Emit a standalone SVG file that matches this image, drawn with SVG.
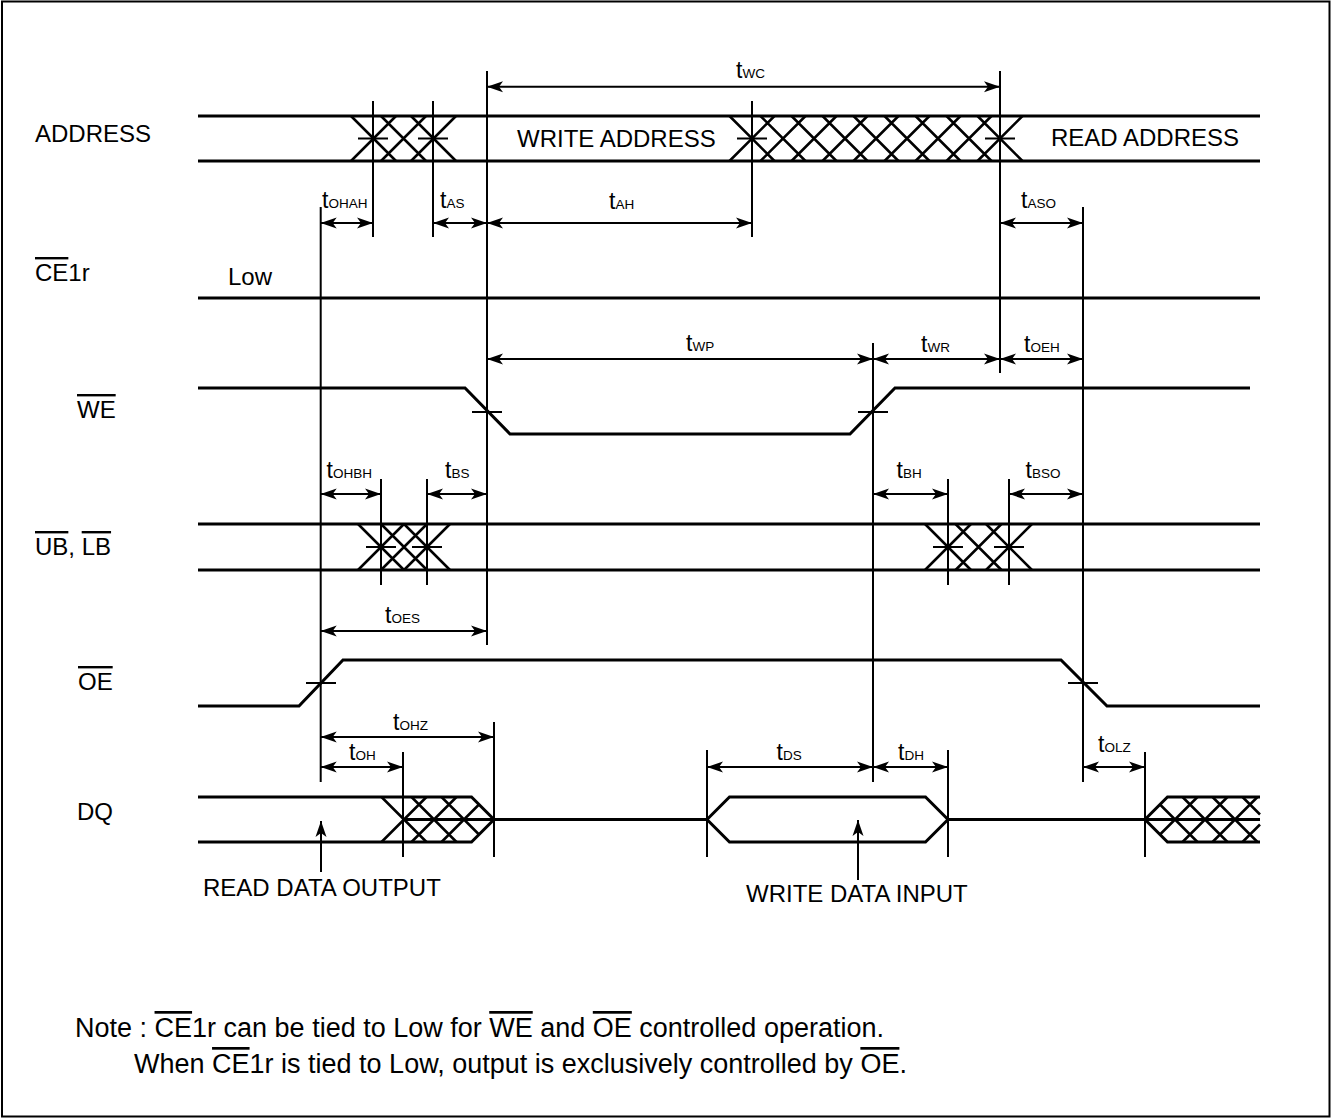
<svg xmlns="http://www.w3.org/2000/svg" width="1331" height="1118" viewBox="0 0 1331 1118">
<style>
.sig{stroke:#000;stroke-width:3;fill:none}
.v{stroke:#000;stroke-width:2;fill:none}
.h{stroke:#000;stroke-width:2.5;fill:none}
.dim{stroke:#000;stroke-width:2;fill:none;marker-start:url(#ah);marker-end:url(#ah)}
.up{stroke:#000;stroke-width:2;fill:none;marker-end:url(#ah)}
text{font-family:"Liberation Sans",Arial,Helvetica,sans-serif;fill:#000}
.lbl{font-size:24px}
.note{font-size:27px}
.t{font-size:23px}
.s{font-size:13.5px}
.ov{text-decoration:overline}
</style>
<defs>
<marker id="ah" viewBox="-17 -6 18 12" refX="0" refY="0" markerWidth="18" markerHeight="12" markerUnits="userSpaceOnUse" orient="auto-start-reverse">
<path d="M0,0 L-16,-5.5 L-12,0 L-16,5.5 Z" fill="#000"/>
</marker>
</defs>
<rect x="2" y="1.5" width="1327.5" height="1115" fill="#fff" stroke="#000" stroke-width="2"/>

<g id="sig-address">
<text class="lbl" x="35" y="142">ADDRESS</text>
<line class="sig" x1="198" y1="116" x2="1260" y2="116"/>
<line class="sig" x1="198" y1="161" x2="1260" y2="161"/>
<path class="h" d="M351,116L396,161M351,161L396,116M381,116L426,161M381,161L426,116M411,116L456,161M411,161L456,116"/>
<path class="h" d="M729.5,116L774.5,161M729.5,161L774.5,116M760.5,116L805.5,161M760.5,161L805.5,116M791.5,116L836.5,161M791.5,161L836.5,116M822.5,116L867.5,161M822.5,161L867.5,116M853.5,116L898.5,161M853.5,161L898.5,116M884.5,116L929.5,161M884.5,161L929.5,116M915.5,116L960.5,161M915.5,161L960.5,116M946.5,116L991.5,161M946.5,161L991.5,116M977.5,116L1022.5,161M977.5,161L1022.5,116"/>
<text class="lbl" x="517" y="147">WRITE ADDRESS</text>
<text class="lbl" x="1051" y="146">READ ADDRESS</text>
</g>

<g id="sig-ce1r">
<text class="lbl" x="35" y="281"><tspan class="ov">CE</tspan>1r</text>
<text class="lbl" x="228" y="285">Low</text>
<line class="sig" x1="198" y1="298" x2="1260" y2="298"/>
</g>

<g id="sig-we">
<text class="lbl" x="77" y="418"><tspan class="ov">WE</tspan></text>
<polyline class="sig" points="198,388 465,388 510,434 850,434 895,388 1250,388"/>
</g>

<g id="sig-ublb">
<text class="lbl" x="35" y="555"><tspan class="ov">UB</tspan>, <tspan class="ov">LB</tspan></text>
<line class="sig" x1="198" y1="524" x2="1260" y2="524"/>
<line class="sig" x1="198" y1="570" x2="1260" y2="570"/>
<path class="h" d="M358,524L404,570M358,570L404,524M381,524L427,570M381,570L427,524M404,524L450,570M404,570L450,524"/>
<path class="h" d="M925,524L971,570M925,570L971,524M955.5,524L1001.5,570M955.5,570L1001.5,524M986,524L1032,570M986,570L1032,524"/>
</g>

<g id="sig-oe">
<text class="lbl" x="78" y="690"><tspan class="ov">OE</tspan></text>
<polyline class="sig" points="198,706 299,706 343,660 1061,660 1107,706 1260,706"/>
</g>

<g id="sig-dq">
<text class="lbl" x="77" y="820">DQ</text>
<polyline class="sig" points="198,797 471.5,797 494,819.5 471.5,842 198,842"/>
<path class="h" d="M381.5,797L426.5,842M381.5,842L426.5,797M411.5,797L456.5,842M411.5,842L456.5,797M441.5,797L479,834.5M441.5,842L479,804.5"/>
<line class="sig" x1="404" y1="819.5" x2="707" y2="819.5"/>
<polygon class="sig" points="707,819.5 729.5,797 925.5,797 948,819.5 925.5,842 729.5,842"/>
<line class="sig" x1="948" y1="819.5" x2="1260" y2="819.5"/>
<polyline class="sig" points="1260,797 1167.5,797 1145,819.5 1167.5,842 1260,842"/>
<path class="h" d="M1160,804.5L1197.5,842M1182.5,797L1227.5,842M1212.5,797L1257.5,842M1242.5,797L1260,814.5M1160,834.5L1197.5,797M1182.5,842L1227.5,797M1212.5,842L1257.5,797M1242.5,842L1260,824.5"/>
<text class="lbl" x="203" y="896">READ DATA OUTPUT</text>
<text class="lbl" x="746" y="902">WRITE DATA INPUT</text>
</g>

<g id="connectors">
<path class="v" d="M320.7,207V782M373,101V237M433,101V237M487,71V645M752,101V237M1000,71V373M1083,207V782M873,343V782M381,479V585M427,479V585M948,479V585M1009,479V585M494,722V857M403,752V857M707,750V857M948,750V857M1145,752V857"/>
<path class="v" d="M358,138.5H388M418,138.5H448M737,138.5H767M985,138.5H1015M472,412H502M858,412H888M366,547H396M412,547H442M933,547H963M994,547H1024M306,683H336M1068,683H1098"/>
<line class="dim" x1="487" y1="86.7" x2="1000" y2="86.7"/>
<line class="dim" x1="320.7" y1="223" x2="373" y2="223"/>
<line class="dim" x1="433" y1="223" x2="487" y2="223"/>
<line class="dim" x1="487" y1="223" x2="752" y2="223"/>
<line class="dim" x1="1000" y1="223" x2="1083" y2="223"/>
<line class="dim" x1="487" y1="359" x2="873" y2="359"/>
<line class="dim" x1="873" y1="359" x2="1000" y2="359"/>
<line class="dim" x1="1000" y1="359" x2="1083" y2="359"/>
<line class="dim" x1="320.7" y1="494" x2="381" y2="494"/>
<line class="dim" x1="427" y1="494" x2="487" y2="494"/>
<line class="dim" x1="873" y1="494" x2="948" y2="494"/>
<line class="dim" x1="1009" y1="494" x2="1083" y2="494"/>
<line class="dim" x1="320.7" y1="631" x2="487" y2="631"/>
<line class="dim" x1="320.7" y1="737" x2="494" y2="737"/>
<line class="dim" x1="320.7" y1="767" x2="403" y2="767"/>
<line class="dim" x1="707" y1="767" x2="873" y2="767"/>
<line class="dim" x1="873" y1="767" x2="948" y2="767"/>
<line class="dim" x1="1083" y1="767" x2="1145" y2="767"/>
<line class="up" x1="321" y1="872" x2="321" y2="821"/>
<line class="up" x1="858" y1="880" x2="858" y2="820"/>
</g>

<g id="timing-labels">
<text x="736" y="78"><tspan class="t">t</tspan><tspan class="s">WC</tspan></text>
<text x="322" y="208"><tspan class="t">t</tspan><tspan class="s">OHAH</tspan></text>
<text x="440" y="208"><tspan class="t">t</tspan><tspan class="s">AS</tspan></text>
<text x="609" y="209"><tspan class="t">t</tspan><tspan class="s">AH</tspan></text>
<text x="1021" y="208"><tspan class="t">t</tspan><tspan class="s">ASO</tspan></text>
<text x="686" y="351"><tspan class="t">t</tspan><tspan class="s">WP</tspan></text>
<text x="921" y="351.5"><tspan class="t">t</tspan><tspan class="s">WR</tspan></text>
<text x="1024" y="351.5"><tspan class="t">t</tspan><tspan class="s">OEH</tspan></text>
<text x="326.5" y="478"><tspan class="t">t</tspan><tspan class="s">OHBH</tspan></text>
<text x="445" y="478"><tspan class="t">t</tspan><tspan class="s">BS</tspan></text>
<text x="896.5" y="478"><tspan class="t">t</tspan><tspan class="s">BH</tspan></text>
<text x="1025.5" y="478"><tspan class="t">t</tspan><tspan class="s">BSO</tspan></text>
<text x="385" y="623"><tspan class="t">t</tspan><tspan class="s">OES</tspan></text>
<text x="393" y="730"><tspan class="t">t</tspan><tspan class="s">OHZ</tspan></text>
<text x="349" y="760"><tspan class="t">t</tspan><tspan class="s">OH</tspan></text>
<text x="776.5" y="760"><tspan class="t">t</tspan><tspan class="s">DS</tspan></text>
<text x="898" y="760"><tspan class="t">t</tspan><tspan class="s">DH</tspan></text>
<text x="1098" y="752"><tspan class="t">t</tspan><tspan class="s">OLZ</tspan></text>
</g>

<g id="note">
<text class="note" x="75" y="1037">Note :  <tspan class="ov">CE</tspan>1r can be tied to Low for <tspan class="ov">WE</tspan> and <tspan class="ov">OE</tspan> controlled operation.</text>
<text class="note" x="134" y="1073">When <tspan class="ov">CE</tspan>1r is tied to Low, output is exclusively controlled by <tspan class="ov">OE</tspan>.</text>
</g>
</svg>
